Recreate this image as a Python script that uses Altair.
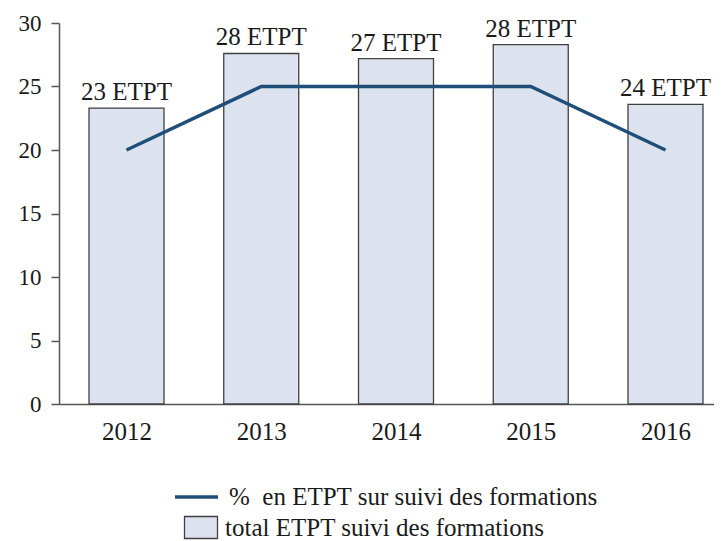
import altair as alt
import pandas as pd

years = [2012, 2013, 2014, 2015, 2016]
total_etpt = [23.3, 27.6, 27.2, 28.3, 23.6]
pct_etpt = [20, 25, 25, 25, 20]
bar_labels = ["23 ETPT", "28 ETPT", "27 ETPT", "28 ETPT", "24 ETPT"]
y_ticks = [0, 5, 10, 15, 20, 25, 30]

LINE_NAME = "%\u00a0 en ETPT sur suivi des formations"
BAR_NAME = "total ETPT suivi des formations"

FONT = "Liberation Serif"
TEXT_COLOR = "#1a1a1a"
AXIS_COLOR = "#555555"

df = pd.DataFrame({
    "annee": years,
    "total": total_etpt,
    "pct": pct_etpt,
    "label": bar_labels,
    "s_bar": [BAR_NAME] * len(years),
    "s_line": [LINE_NAME] * len(years),
})

x = alt.X(
    "annee:Q",
    scale=alt.Scale(domain=[2011.499, 2016.36], nice=False, zero=False, padding=0),
    axis=alt.Axis(
        values=years, format="d", ticks=False, tickSize=0, grid=False, title=None,
        labelFont=FONT, labelFontSize=25, labelPadding=15, labelColor=TEXT_COLOR,
        domainColor=AXIS_COLOR, domainWidth=1.5, labelFlush=False,
    ),
)

y_scale = alt.Scale(domain=[0, 30], nice=False, padding=0)
y_axis = alt.Axis(
    values=y_ticks, grid=False, title=None, tickSize=8, tickColor=AXIS_COLOR,
    tickWidth=1.5, labelFont=FONT, labelFontSize=23, labelPadding=10,
    labelColor=TEXT_COLOR, domainColor=AXIS_COLOR, domainWidth=1.5,
)

base = alt.Chart(df)

bars = base.mark_bar(size=75, stroke="#404040", strokeWidth=1.3).encode(
    x=x,
    y=alt.Y("total:Q", scale=y_scale, axis=y_axis),
    fill=alt.Fill(
        "s_bar:N",
        scale=alt.Scale(domain=[BAR_NAME], range=["#dce3ee"]),
        legend=alt.Legend(
            title=None, orient="none", legendX=129.5, legendY=492,
            symbolType="M-1.5,-1H1.5V1H-1.5Z", symbolSize=484,
            symbolStrokeColor="#404040", symbolStrokeWidth=1.3,
            symbolFillColor="#dce3ee",
            labelFont=FONT, labelFontSize=25, labelColor=TEXT_COLOR,
            labelOffset=11.5, padding=0, labelLimit=600,
        ),
    ),
)

line = base.mark_line(strokeWidth=3.5).encode(
    x=x,
    y=alt.Y("pct:Q", scale=y_scale, axis=y_axis),
    stroke=alt.Stroke(
        "s_line:N",
        scale=alt.Scale(domain=[LINE_NAME], range=["#1f4e79"]),
        legend=alt.Legend(
            title=None, orient="none", legendX=114, legendY=450.5,
            symbolType="stroke", symbolSize=1849, symbolStrokeWidth=3.5,
            labelFont=FONT, labelFontSize=25, labelColor=TEXT_COLOR,
            labelOffset=9, padding=0, labelLimit=600,
        ),
    ),
)

text = base.mark_text(
    dy=-8, baseline="alphabetic", font=FONT, fontSize=25, color=TEXT_COLOR
).encode(
    x=x,
    y=alt.Y("total:Q", scale=y_scale, axis=y_axis),
    text="label:N",
)

chart = (
    alt.layer(bars, line, text)
    .properties(
        width=655, height=381,
        autosize=alt.AutoSizeParams(type="none"),
        padding={"left": 51, "top": 15, "right": 0, "bottom": 137},
        background="white",
    )
    .configure_view(stroke=None)
)

chart.save("out.html", embed_options={"renderer": "svg", "actions": False})
